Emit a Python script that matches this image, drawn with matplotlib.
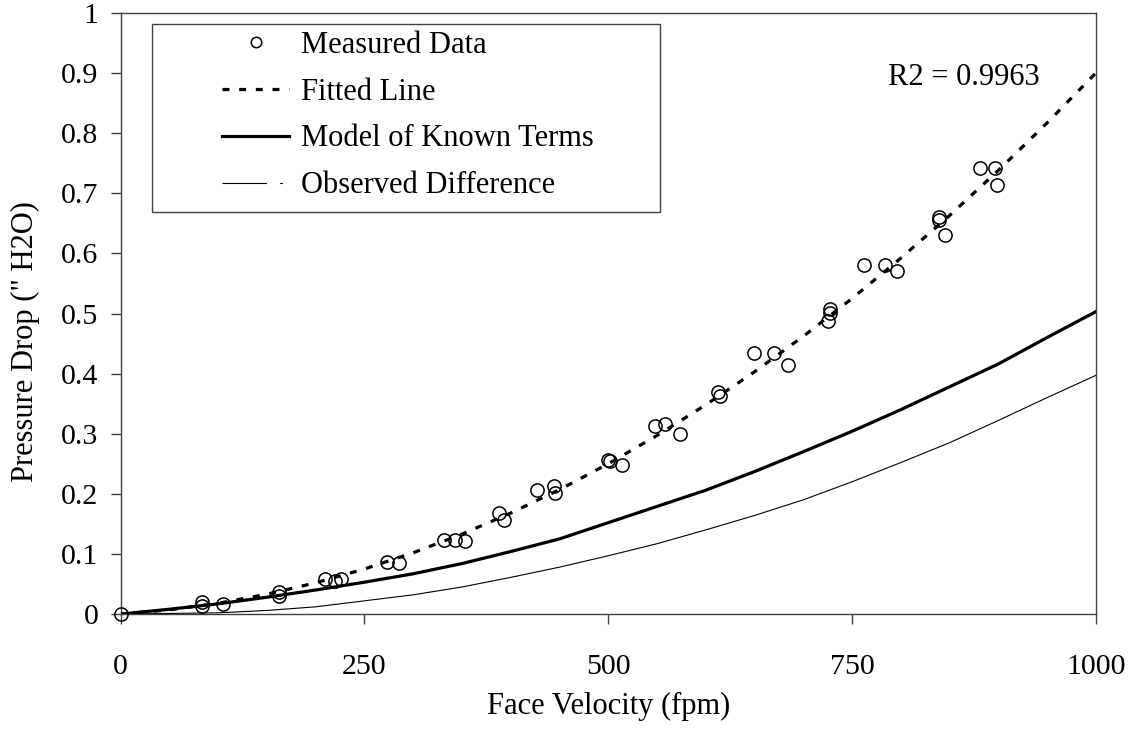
import matplotlib
matplotlib.use("Agg")
import matplotlib.pyplot as plt
from matplotlib.lines import Line2D
from matplotlib.patches import Rectangle

# measured points (fpm, inches H2O)
meas_v = [0, 83, 83, 105, 162, 162, 210, 220, 226, 273, 285,
          332, 343, 353, 388, 393, 427, 444, 445, 500, 502, 514,
          548, 558, 574, 613, 615, 650, 670, 684, 725, 727, 727,
          762, 784, 796, 839, 839, 845, 881, 897, 899]
meas_p = [0.0, 0.020, 0.013, 0.016, 0.036, 0.030, 0.058, 0.055, 0.059, 0.087, 0.085,
          0.123, 0.123, 0.122, 0.168, 0.156, 0.207, 0.213, 0.202, 0.257, 0.255, 0.248,
          0.313, 0.317, 0.300, 0.369, 0.363, 0.435, 0.435, 0.415, 0.488, 0.501, 0.507,
          0.581, 0.581, 0.571, 0.661, 0.656, 0.631, 0.742, 0.742, 0.714]

# curves
curve_v = [0, 50, 100, 150, 200, 250, 300, 350, 400, 450, 500,
           550, 600, 650, 700, 750, 800, 850, 900, 950, 1000]
fitted = [0.0, 0.007, 0.018, 0.033, 0.052, 0.075, 0.102, 0.133, 0.168, 0.207, 0.250,
          0.297, 0.348, 0.403, 0.462, 0.525, 0.592, 0.663, 0.738, 0.817, 0.900]
model = [0.0, 0.008, 0.017, 0.028, 0.040, 0.053, 0.067, 0.084, 0.104, 0.125, 0.152,
         0.179, 0.206, 0.237, 0.270, 0.304, 0.340, 0.378, 0.416, 0.460, 0.503]
difference = [0.0, 0.001, 0.002, 0.006, 0.012, 0.022, 0.032, 0.045, 0.061, 0.078, 0.097,
              0.117, 0.140, 0.164, 0.190, 0.220, 0.252, 0.285, 0.322, 0.360, 0.397]

labels = ['Measured Data', 'Fitted Line', 'Model of Known Terms', 'Observed Difference']

plt.rcParams['font.family'] = ['Liberation Serif', 'DejaVu Serif']
plt.rcParams['lines.scale_dashes'] = False
FS = 22
TICK_FS = 21.5
FRAME = '#404040'

fig = plt.figure(figsize=(11.37, 7.31), dpi=100)
ax = fig.add_axes([0.1062, 0.160, 0.8575, 0.8222])

ax.plot(curve_v, difference, color='black', lw=0.8, zorder=2)
ax.plot(curve_v, model, color='black', lw=2.3, zorder=2)
ax.plot(curve_v, fitted, color='black', lw=2.3, linestyle=(0, (5, 7)), zorder=3)
ax.plot(meas_v, meas_p, linestyle='none', marker='o', markersize=9.5, markerfacecolor='none',
        markeredgecolor='black', markeredgewidth=1.1, zorder=4, clip_on=False)

ax.set_xlim(0, 1000)
ax.set_ylim(0, 1)
ax.set_xticks([0, 250, 500, 750, 1000])
ax.set_yticks([i / 10 for i in range(11)])
ax.set_yticklabels(['0', '0.1', '0.2', '0.3', '0.4', '0.5', '0.6', '0.7', '0.8', '0.9', '1'])
ax.tick_params(direction='out', length=7, width=1, color=FRAME, labelsize=TICK_FS, pad=9)
ax.tick_params(axis='x', pad=22)
for s in ax.spines.values():
    s.set_color(FRAME)
    s.set_linewidth(1)

ax.set_xlabel('Face Velocity (fpm)', fontsize=FS, labelpad=8)
ax.set_ylabel('Pressure Drop (" H2O)', fontsize=FS)
ax.yaxis.set_label_coords(-0.083, 0.454)

ax.text(943, 0.893, 'R2 = 0.9963', fontsize=FS, ha='right', va='center')

# legend: handles drawn like the original, frame drawn separately
handles = [
    Line2D([], [], linestyle='none', marker='o', markersize=7.5, markerfacecolor='none',
           markeredgecolor='black', markeredgewidth=1.1),
    Line2D([], [], color='black', lw=2.3, linestyle=(0, (5, 7))),
    Line2D([], [], color='black', lw=2.3),
    Line2D([], [], color='black', lw=0.8, linestyle=(0, (32, 9.5, 2, 20))),
]
lgd = ax.legend(handles, labels, loc='upper left', bbox_to_anchor=(0.1039, 0.970),
                fontsize=FS, frameon=False, handlelength=2.2, handletextpad=0.4,
                labelspacing=0.58, borderpad=0, borderaxespad=0)
ax.add_patch(Rectangle((0.032, 0.669), 0.521, 0.313, transform=ax.transAxes,
                       facecolor='none', edgecolor=FRAME, lw=1, zorder=5))

fig.savefig('out.png', dpi=100)
